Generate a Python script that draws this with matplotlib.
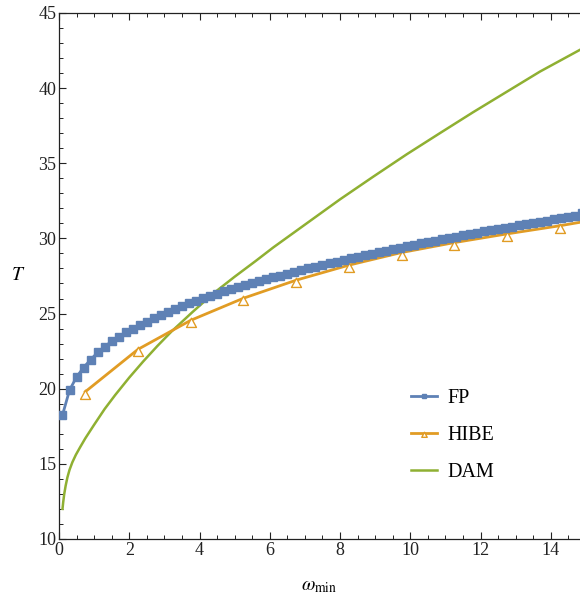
import matplotlib
matplotlib.use("Agg")
import matplotlib.pyplot as plt
from matplotlib.path import Path
from matplotlib.ticker import MultipleLocator

plt.rcParams["font.family"] = ["Liberation Serif", "DejaVu Serif"]
plt.rcParams["mathtext.fontset"] = "stix"

# ── Data ──────────────────────────────────────────────────────────────────────
fp_x = [round(0.1 + 0.2 * i, 1) for i in range(75)]
fp_t = [18.25, 19.90, 20.78, 21.41, 21.93, 22.41, 22.80, 23.15, 23.44, 23.74,
        24.00, 24.25, 24.47, 24.71, 24.92, 25.12, 25.31, 25.50, 25.68, 25.85,
        26.01, 26.17, 26.32, 26.47, 26.61, 26.75, 26.89, 27.02, 27.15, 27.28,
        27.41, 27.53, 27.65, 27.77, 27.89, 28.01, 28.12, 28.23, 28.34, 28.45,
        28.56, 28.67, 28.78, 28.88, 28.98, 29.08, 29.18, 29.28, 29.38, 29.48,
        29.58, 29.67, 29.76, 29.85, 29.94, 30.03, 30.12, 30.21, 30.30, 30.38,
        30.47, 30.55, 30.63, 30.71, 30.79, 30.87, 30.95, 31.03, 31.11, 31.19,
        31.27, 31.35, 31.43, 31.51, 31.72]

hibe_x = [0.75, 2.25, 3.75, 5.25, 6.75, 8.25, 9.75, 11.25, 12.75, 14.25]
hibe_t = [19.80, 22.62, 24.55, 26.02, 27.22, 28.22, 29.06, 29.72, 30.30, 30.84]
hibe_tail_x = [14.25, 14.9]
hibe_tail_t = [30.84, 31.10]

dam_x = [0.1, 0.12, 0.15, 0.19, 0.24, 0.3, 0.38, 0.48, 0.6, 0.75, 1.0, 1.3,
         1.6, 2.0, 2.4, 2.8, 3.2, 3.8, 4.4, 5.0, 5.6, 6.1, 7.05, 8.0, 8.94,
         9.9, 10.84, 11.79, 12.74, 13.69, 14.83]
dam_t = [12.0, 12.45, 13.0, 13.55, 14.1, 14.6, 15.1, 15.6, 16.1, 16.7, 17.6,
         18.65, 19.58, 20.74, 21.82, 22.84, 23.8, 25.1, 26.35, 27.45, 28.5,
         29.4, 31.0, 32.6, 34.1, 35.6, 37.0, 38.4, 39.75, 41.1, 42.55]

BLUE = "#5E81B5"
ORANGE = "#E19C24"
GREEN = "#8FB032"

# open triangle whose anchor sits in its upper part, as in the source
tri = Path([(0, 2.3), (-5, -7), (5, -7), (0, 2.3)],
           [Path.MOVETO, Path.LINETO, Path.LINETO, Path.CLOSEPOLY])

fig = plt.figure(figsize=(5.8, 6.01), dpi=100)
ax = fig.add_axes([0.1017, 0.1032, 0.8983, 0.8752])

ax.plot(dam_x, dam_t, color=GREEN, lw=1.8, label="DAM", zorder=2)
ax.plot(hibe_tail_x, hibe_tail_t, color=ORANGE, lw=2.0, zorder=3)
ax.plot(hibe_x, hibe_t, color=ORANGE, lw=2.0, marker=tri, ms=10,
        mfc="white", mec=ORANGE, mew=1.0, label="HIBE", zorder=3)
ax.plot(fp_x, fp_t, color=BLUE, lw=2.0, marker="s", ms=6.2,
        mec=BLUE, label="FP", zorder=4)

ax.set_xlim(0, 14.83)
ax.set_ylim(10, 45)
ax.xaxis.set_major_locator(MultipleLocator(2))
ax.xaxis.set_minor_locator(MultipleLocator(0.5))
ax.yaxis.set_major_locator(MultipleLocator(5))
ax.yaxis.set_minor_locator(MultipleLocator(1))
ax.tick_params(which="both", direction="in", top=True, right=False,
               colors="#222222", labelsize=13, pad=2)
ax.tick_params(which="major", length=5, width=0.8)
ax.tick_params(which="minor", length=2.8, width=0.7)
ax.spines["right"].set_visible(False)
for s in ("left", "bottom", "top"):
    ax.spines[s].set_linewidth(0.9)
    ax.spines[s].set_color("#222222")

ax.set_xlabel(r"$\omega_{\rm min}$", fontsize=14, labelpad=14)
ax.set_ylabel(r"$T$", fontsize=14, labelpad=14, rotation=0, va="center")

handles, labels = ax.get_legend_handles_labels()
order = [labels.index(k) for k in ("FP", "HIBE", "DAM")]
leg = ax.legend([handles[i] for i in order], [labels[i] for i in order],
                loc="upper left", bbox_to_anchor=(0.657, 0.304),
                frameon=False, fontsize=14.5, handlelength=1.25,
                handletextpad=0.55, labelspacing=0.88, borderpad=0,
                markerscale=0.55)

fig.savefig("out.png", dpi=100)
